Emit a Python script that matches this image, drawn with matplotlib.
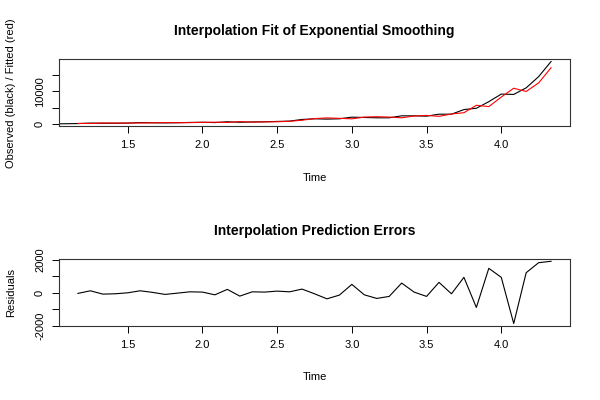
import matplotlib
matplotlib.use("Agg")
import matplotlib.pyplot as plt
import numpy as np

plt.rcParams['font.family'] = ['Liberation Sans', 'DejaVu Sans']

# Observed series (monthly, starting at t = 1.0)
obs_start = 1.0
observed = [150, 200,
            250, 400, 350, 350, 400, 550, 500, 450, 500, 600,
            650, 550, 800, 650, 750, 800, 900, 1000, 1500, 1700,
            1600, 1700, 2200, 2100, 2000, 2000, 2600, 2600, 2500, 3100,
            3100, 4500, 4900, 6900, 9200, 9100, 11100, 14500, 19100]

# Fitted series (starts at t = 1.0 + 2/12)
fit_start = 1.0 + 2 / 12
fitted = [290, 280, 430, 410, 400, 430, 475, 550, 520, 540,
          610, 670, 590, 850, 690, 760, 800, 940, 1270, 1760,
          1970, 1840, 1690, 2220, 2340, 2220, 2000, 2560, 2720, 2460,
          3160, 3550, 5800, 5400, 8300, 10980, 10000, 12600, 17200]

# Interpolation prediction errors
residuals = [-37, 123, -80, -60, 0, 123, 25, -98, -20, 60,
             43, -123, 209, -202, 60, 43, 104, 60, 227, -60,
             -368, -141, 515, -123, -344, -221, 595, 43, -221, 638,
             -61, 945, -896, 1497, 945, -1877, 1227, 1840, 1926]

top_yticks = [0, 5000, 10000, 15000]
top_ylabels = ['0', '', '10000', '']
bot_yticks = [-2000, -1000, 0, 1000, 2000]
bot_ylabels = ['-2000', '', '0', '', '2000']
xticks = [1.5, 2.0, 2.5, 3.0, 3.5, 4.0]

t_obs = obs_start + np.arange(len(observed)) / 12
t_fit = fit_start + np.arange(len(fitted)) / 12
t_res = fit_start + np.arange(len(residuals)) / 12

fig = plt.figure(figsize=(6, 4), dpi=100)
ax1 = fig.add_axes([0.0983, 0.684, 0.8517, 0.1685])
ax2 = fig.add_axes([0.0983, 0.185, 0.8517, 0.168])

def r_range(vals):
    lo, hi = min(vals), max(vals)
    d = (hi - lo) * 0.04
    return lo - d, hi + d

xlo, xhi = r_range(list(t_fit))

FS = 8.0
for ax in (ax1, ax2):
    ax.set_xlim(xlo, xhi)
    ax.set_xticks(xticks)
    ax.set_xticklabels([f"{v:.1f}" for v in xticks])
    ax.tick_params(direction='out', length=5, width=0.7, labelsize=FS, pad=5)
    for s in ax.spines.values():
        s.set_linewidth(0.8)
        s.set_color('#333333')
    ax.set_xlabel('Time', fontsize=FS, labelpad=16)

ax1.plot(t_obs, observed, color='black', lw=0.8)
ax1.plot(t_fit, fitted, color='red', lw=0.8)
ax1.set_ylim(*r_range(observed + fitted))
ax1.set_yticks(top_yticks)
ax1.set_yticklabels(top_ylabels, rotation=90, va='center')
ax1.set_ylabel('Observed (black) / Fitted (red)', fontsize=FS, labelpad=14)
ax1.set_title('Interpolation Fit of Exponential Smoothing', fontsize=10,
              fontweight='bold', pad=17)

ax2.plot(t_res, residuals, color='black', lw=0.8)
ax2.set_ylim(*r_range(residuals))
ax2.set_yticks(bot_yticks)
ax2.set_yticklabels(bot_ylabels, rotation=90, va='center')
ax2.set_ylabel('Residuals', fontsize=FS, labelpad=14)
ax2.set_title('Interpolation Prediction Errors', fontsize=10,
              fontweight='bold', pad=17)

fig.savefig('out.png', dpi=100)
